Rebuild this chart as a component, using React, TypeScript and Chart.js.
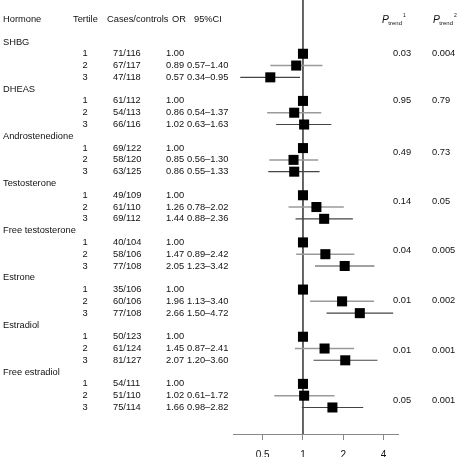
import { useEffect, useRef } from 'react';
import { Chart, registerables } from 'chart.js';

Chart.register(...registerables);

// ---------- data ----------
const hormones = [
  'SHBG',
  'DHEAS',
  'Androstenedione',
  'Testosterone',
  'Free testosterone',
  'Estrone',
  'Estradiol',
  'Free estradiol',
];
const tertiles = ['1', '2', '3'];
const casesControls = [
  ['71/116', '67/117', '47/118'],
  ['61/112', '54/113', '66/116'],
  ['69/122', '58/120', '63/125'],
  ['49/109', '61/110', '69/112'],
  ['40/104', '58/106', '77/108'],
  ['35/106', '60/106', '77/108'],
  ['50/123', '61/124', '81/127'],
  ['54/111', '51/110', '75/114'],
];
const oddsRatios = [
  [1.0, 0.89, 0.57],
  [1.0, 0.86, 1.02],
  [1.0, 0.85, 0.86],
  [1.0, 1.26, 1.44],
  [1.0, 1.47, 2.05],
  [1.0, 1.96, 2.66],
  [1.0, 1.45, 2.07],
  [1.0, 1.02, 1.66],
];
const ciLower = [
  [null, 0.57, 0.34],
  [null, 0.54, 0.63],
  [null, 0.56, 0.55],
  [null, 0.78, 0.88],
  [null, 0.89, 1.23],
  [null, 1.13, 1.5],
  [null, 0.87, 1.2],
  [null, 0.61, 0.98],
];
const ciUpper = [
  [null, 1.4, 0.95],
  [null, 1.37, 1.63],
  [null, 1.3, 1.33],
  [null, 2.02, 2.36],
  [null, 2.42, 3.42],
  [null, 3.4, 4.72],
  [null, 2.41, 3.6],
  [null, 1.72, 2.82],
];
const pTrend1 = ['0.03', '0.95', '0.49', '0.14', '0.04', '0.01', '0.01', '0.05'];
const pTrend2 = ['0.004', '0.79', '0.73', '0.05', '0.005', '0.002', '0.001', '0.001'];
const xTicks = [0.5, 1, 2, 4];
const refValue = 1;

// ---------- layout ----------
const W = 457;
const H = 457;
const FONT = '"Liberation Sans", Arial, Helvetica, sans-serif';
const FS = 9.3;
const TEXT = '#111';
const Y_MIN = -3.56;
const Y_MAX = 33.25;
const HEADER_ROW = -1.95;
const P_ROWS = [0.95, 4.95, 9.33, 13.5, 17.7, 21.9, 26.2, 30.4];
const COL = {
  hormone: 3,
  tertileHead: 73,
  tertile: 85,
  casesHead: 107,
  cases: 113,
  orHead: 172,
  or: 166,
  ciHead: 194,
  ci: 187,
  p1Head: 382,
  p2Head: 433,
  p1: 393,
  p2: 432,
};

const titleRow = (h: number) => h * 4;
const tertileRow = (h: number, t: number) => h * 4 + 1 + t;

const textPlugin = {
  id: 'forestText',
  afterDraw(chart: any) {
    const ctx = chart.ctx as CanvasRenderingContext2D;
    const ys = chart.scales.y;
    const py = (r: number) => ys.getPixelForValue(r);
    ctx.save();
    ctx.fillStyle = TEXT;
    ctx.textBaseline = 'middle';
    ctx.font = `${FS}px ${FONT}`;
    ctx.textAlign = 'left';
    const hy = py(HEADER_ROW);
    ctx.fillText('Hormone', COL.hormone, hy);
    ctx.fillText('Tertile', COL.tertileHead, hy);
    ctx.fillText('Cases/controls', COL.casesHead, hy);
    ctx.fillText('OR', COL.orHead, hy);
    ctx.fillText('95%CI', COL.ciHead, hy);

    hormones.forEach((name, h) => {
      ctx.textAlign = 'left';
      ctx.fillText(name, COL.hormone, py(titleRow(h)));
      tertiles.forEach((t, ti) => {
        const y = py(tertileRow(h, ti));
        ctx.textAlign = 'center';
        ctx.fillText(t, COL.tertile, y);
        ctx.textAlign = 'left';
        ctx.fillText(casesControls[h][ti], COL.cases, y);
        ctx.fillText(oddsRatios[h][ti].toFixed(2), COL.or, y);
        const lo = ciLower[h][ti];
        const hi = ciUpper[h][ti];
        if (lo !== null && hi !== null) {
          ctx.fillText(`${lo.toFixed(2)}\u2013${hi.toFixed(2)}`, COL.ci, y);
        }
      });
      const pyv = py(P_ROWS[h]);
      ctx.fillText(pTrend1[h], COL.p1, pyv);
      ctx.fillText(pTrend2[h], COL.p2, pyv);
    });

    // P trend headers
    const drawP = (x: number, sup: string) => {
      ctx.textAlign = 'left';
      ctx.textBaseline = 'alphabetic';
      const base = hy + 4;
      ctx.font = `italic ${FS + 1}px ${FONT}`;
      ctx.fillText('P', x, base);
      const pw = ctx.measureText('P').width;
      ctx.font = `${6}px ${FONT}`;
      ctx.fillText('trend', x + pw - 0.5, base + 2);
      const tw = ctx.measureText('trend').width;
      ctx.font = `${5}px ${FONT}`;
      ctx.fillText(sup, x + pw + tw + 0.5, base - 6);
    };
    drawP(COL.p1Head, '1');
    drawP(COL.p2Head, '2');
    ctx.restore();
  },
};

export default function App() {
  const ref = useRef<HTMLCanvasElement>(null);
  useEffect(() => {
    const canvas = ref.current;
    if (!canvas) return;

    const squares: { x: number; y: number }[] = [];
    const ciSets: any[] = [];
    hormones.forEach((_, h) => {
      tertiles.forEach((__, ti) => {
        const row = tertileRow(h, ti);
        squares.push({ x: oddsRatios[h][ti], y: row });
        const lo = ciLower[h][ti];
        const hi = ciUpper[h][ti];
        if (lo !== null && hi !== null) {
          ciSets.push({
            type: 'line',
            data: [
              { x: lo, y: row },
              { x: hi, y: row },
            ],
            borderColor: ti === 1 ? '#9a9a9a' : '#444',
            borderWidth: ti === 1 ? 1.5 : 1.1,
            pointRadius: 0,
            fill: false,
          });
        }
      });
    });

    const chart = new Chart(canvas, {
      type: 'line',
      data: {
        datasets: [
          {
            type: 'line',
            data: squares,
            showLine: false,
            pointStyle: 'rect',
            pointRadius: 7.1,
            pointBackgroundColor: '#000',
            pointBorderColor: '#000',
            pointBorderWidth: 0,
          } as any,
          ...ciSets,
          {
            type: 'line',
            data: [
              { x: refValue, y: Y_MIN },
              { x: refValue, y: Y_MAX },
            ],
            borderColor: '#333',
            borderWidth: 1.5,
            pointRadius: 0,
          },
        ],
      },
      options: {
        responsive: false,
        animation: false,
        devicePixelRatio: 1,
        events: [],
        layout: { autoPadding: false, padding: { left: 233, right: 59, top: 0, bottom: 0 } },
        plugins: {
          legend: { display: false },
          tooltip: { enabled: false },
        },
        scales: {
          x: {
            type: 'logarithmic',
            position: 'bottom',
            min: 0.309,
            max: 5.13,
            afterBuildTicks: (s: any) => {
              s.ticks = xTicks.map((v) => ({ value: v }));
            },
            afterFit: (s: any) => {
              s.height = 23;
            },
            ticks: {
              callback: (v: any) => String(v),
              font: { family: FONT, size: 10 },
              color: TEXT,
              padding: 9,
              maxRotation: 0,
              autoSkip: false,
            },
            grid: {
              drawOnChartArea: false,
              drawTicks: true,
              tickLength: 6,
              color: '#888',
              lineWidth: 1,
            },
            border: { display: true, color: '#888', width: 1 },
          },
          y: {
            type: 'linear',
            display: false,
            reverse: true,
            min: Y_MIN,
            max: Y_MAX,
          },
        },
      } as any,
      plugins: [textPlugin],
    });
    return () => chart.destroy();
  }, []);

  return (
    <div style={{ position: 'absolute', left: 0, top: 0, width: W, height: H, background: '#fff' }}>
      <canvas ref={ref} width={W} height={H} style={{ display: 'block', width: W, height: H }} />
    </div>
  );
}
